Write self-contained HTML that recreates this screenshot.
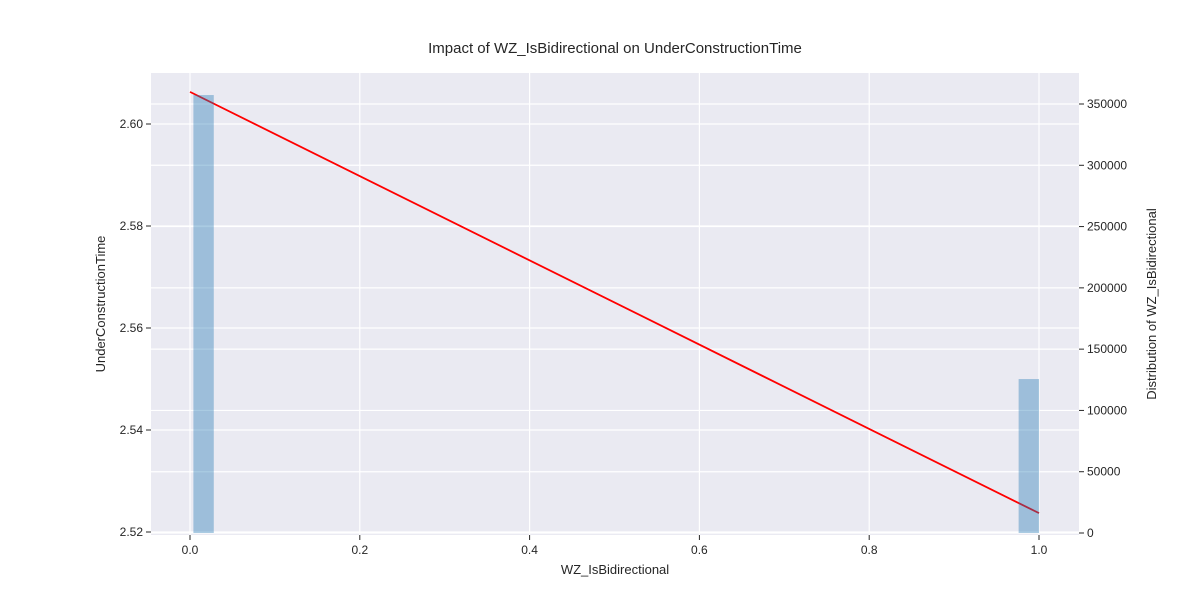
<!DOCTYPE html>
<html><head><meta charset="utf-8"><style>
body{margin:0;background:#fff;font-family:"Liberation Sans",Arial,sans-serif}
text{font-family:"Liberation Sans",Arial,sans-serif;fill:#262626}
</style></head><body>
<svg id="c" width="1200" height="600" xmlns="http://www.w3.org/2000/svg"></svg>
<script>
const xTicks=[0,0.2,0.4,0.6,0.8,1.0];
const xTickLabels=["0.0","0.2","0.4","0.6","0.8","1.0"];
const leftTicks=[2.52,2.54,2.56,2.58,2.60];
const leftTickLabels=["2.52","2.54","2.56","2.58","2.60"];
const rightTicks=[0,50000,100000,150000,200000,250000,300000,350000];
const binStarts=[0.004,0.976];
const binWidth=0.024;
const counts=[357300,125600];
const lineX=[0,1];
const lineY=[2.6063,2.5237];

const svg=document.getElementById('c');
const NS='http://www.w3.org/2000/svg';
const L=151,R=1079,T=73,B=535;
const xs=v=>190+v*849;
const yl=v=>532-(v-2.52)*5100;
const yr=v=>533-v*429/350000;
function mk(tag,attrs,parent){const e=document.createElementNS(NS,tag);for(const k in attrs)e.setAttribute(k,attrs[k]);(parent||svg).appendChild(e);return e;}
const bg=mk('rect',{x:L,y:T,width:R-L,height:B-T,fill:'#eaeaf2'});


xTicks.forEach((v,i)=>{
 const g=mk('line',{x1:xs(v),x2:xs(v),y1:T,y2:B,stroke:'#fff','stroke-width':1.2});
 
 
 mk('line',{x1:xs(v),x2:xs(v),y1:B,y2:B+5,stroke:'#262626'});
 const t=mk('text',{x:xs(v),y:B+19,'text-anchor':'middle','font-size':12});
 t.textContent=xTickLabels[i];
 
 
});
leftTicks.forEach((v,i)=>{
 const g=mk('line',{x1:L,x2:R,y1:yl(v),y2:yl(v),stroke:'#fff','stroke-width':1.2});
 
 
 mk('line',{x1:L-5,x2:L,y1:yl(v),y2:yl(v),stroke:'#262626'});
 const t=mk('text',{x:L-8,y:yl(v)+4,'text-anchor':'end','font-size':12});
 t.textContent=leftTickLabels[i];
 
 
});
rightTicks.forEach(v=>{
 const g=mk('line',{x1:L,x2:R,y1:yr(v),y2:yr(v),stroke:'#fff','stroke-width':1.2});
 
 
 mk('line',{x1:R,x2:R+5,y1:yr(v),y2:yr(v),stroke:'#262626'});
 const t=mk('text',{x:R+8,y:yr(v)+4,'text-anchor':'start','font-size':12});
 t.textContent=String(v);
 
 
});
const ln=mk('line',{x1:xs(lineX[0]),y1:yl(lineY[0]),x2:xs(lineX[1]),y2:yl(lineY[1]),stroke:'#ff0000','stroke-width':1.8});


counts.forEach((c,i)=>{
 const x0=xs(binStarts[i]),x1=xs(binStarts[i]+binWidth);
 const b=mk('rect',{x:x0,y:yr(c),width:x1-x0,height:yr(0)-yr(c),fill:'#1f77b4','fill-opacity':0.38});
 
 
});
const title=mk('text',{x:615,y:53,'text-anchor':'middle','font-size':15});
title.textContent='Impact of WZ_IsBidirectional on UnderConstructionTime';


const xl=mk('text',{x:615,y:574,'text-anchor':'middle','font-size':13});
xl.textContent='WZ_IsBidirectional';


const ylb=mk('text',{x:0,y:0,'text-anchor':'middle','font-size':13,transform:'translate(105,304) rotate(-90)'});
ylb.textContent='UnderConstructionTime';


const yrb=mk('text',{x:0,y:0,'text-anchor':'middle','font-size':13,transform:'translate(1156,304) rotate(-90)'});
yrb.textContent='Distribution of WZ_IsBidirectional';


</script>
</body></html>
